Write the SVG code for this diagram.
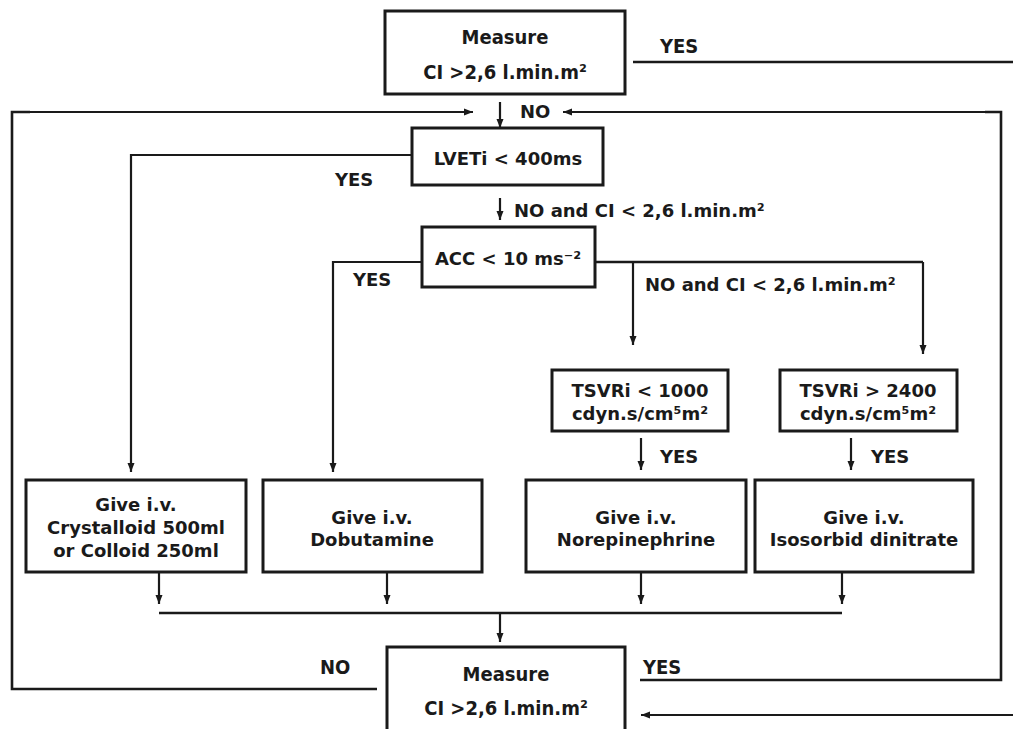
<svg xmlns="http://www.w3.org/2000/svg" width="1013" height="729" viewBox="0 0 1013 729">
<defs>
<marker id="ah" markerUnits="userSpaceOnUse" markerWidth="10" markerHeight="8" refX="9" refY="4" orient="auto">
<path d="M0,0.5 L9,4 L0,7.5 z" fill="#1a1a1a"/>
</marker>
<style>
.box{fill:#fff;stroke:#1a1a1a;stroke-width:3}
.ln{fill:none;stroke:#1a1a1a;stroke-width:2.6}
.ar{fill:none;stroke:#1a1a1a;stroke-width:2.2;marker-end:url(#ah)}
text{font-family:"DejaVu Sans",Verdana,sans-serif;font-weight:bold;font-size:18px;fill:#1a1a1a}
.c{text-anchor:middle}
.n{font-family:"DejaVu Sans Condensed","DejaVu Sans",sans-serif;font-stretch:condensed;font-size:20px}
</style>
</defs>
<rect width="1013" height="729" fill="#fff"/>
<g id="connectors">
<line class="ln" x1="633" y1="62" x2="1013" y2="62"/>
<polyline class="ln" points="377,689 12,689 12,112 30,112"/>
<line class="ar" x1="14" y1="112" x2="473" y2="112"/>
<polyline class="ln" points="640,680 1001,680 1001,112 985,112"/>
<line class="ar" x1="1001" y1="112" x2="563" y2="112"/>
<line class="ar" x1="1013" y1="715" x2="641" y2="715"/>
<line class="ar" x1="500" y1="102" x2="500" y2="128"/>
<polyline class="ar" points="412,155 131,155 131,472"/>
<line class="ar" x1="500" y1="198" x2="500" y2="220"/>
<polyline class="ar" points="422,262 333,262 333,472"/>
<line class="ln" x1="595" y1="262" x2="923" y2="262"/>
<line class="ar" x1="633" y1="262" x2="633" y2="345"/>
<line class="ar" x1="923" y1="262" x2="923" y2="354"/>
<line class="ar" x1="641" y1="438" x2="641" y2="470"/>
<line class="ar" x1="851" y1="438" x2="851" y2="470"/>
<line class="ar" x1="159" y1="573" x2="159" y2="604"/>
<line class="ar" x1="387" y1="573" x2="387" y2="604"/>
<line class="ar" x1="641" y1="573" x2="641" y2="604"/>
<line class="ar" x1="842" y1="573" x2="842" y2="604"/>
<line class="ln" x1="159" y1="613" x2="842" y2="613"/>
<line class="ar" x1="500" y1="613" x2="500" y2="642"/>
</g>
<g id="labels">
<text class="n" x="660" y="53">YES</text>
<text x="520" y="118">NO</text>
<text x="335" y="186">YES</text>
<text x="514" y="217">NO and  CI &lt; 2,6 l.min.m²</text>
<text x="353" y="286">YES</text>
<text x="645" y="291">NO and  CI &lt; 2,6 l.min.m²</text>
<text x="660" y="463">YES</text>
<text x="871" y="463">YES</text>
<text class="n" x="320" y="674">NO</text>
<text class="n" x="643" y="674">YES</text>
</g>
<g id="measure-top">
<rect class="box" x="385" y="11" width="240" height="83"/>
<text class="c n" x="505" y="44">Measure</text>
<text class="c n" x="505" y="79">CI &gt;2,6 l.min.m²</text>
</g>
<g id="lveti">
<rect class="box" x="412" y="128" width="191" height="57"/>
<text class="c" x="508" y="165">LVETi &lt; 400ms</text>
</g>
<g id="acc">
<rect class="box" x="422" y="227" width="173" height="60"/>
<text class="c" x="508" y="265">ACC &lt; 10 ms⁻²</text>
</g>
<g id="tsvri-low">
<rect class="box" x="552" y="370" width="176" height="61"/>
<text class="c" x="640" y="397">TSVRi &lt; 1000</text>
<text class="c" x="640" y="420">cdyn.s/cm⁵m²</text>
</g>
<g id="tsvri-high">
<rect class="box" x="780" y="370" width="177" height="61"/>
<text class="c" x="868" y="397">TSVRi &gt; 2400</text>
<text class="c" x="868" y="420">cdyn.s/cm⁵m²</text>
</g>
<g id="crystalloid">
<rect class="box" x="26" y="480" width="220" height="92"/>
<text class="c" x="136" y="511">Give i.v.</text>
<text class="c" x="136" y="534">Crystalloid 500ml</text>
<text class="c" x="136" y="557">or Colloid 250ml</text>
</g>
<g id="dobutamine">
<rect class="box" x="263" y="480" width="219" height="92"/>
<text class="c" x="372" y="524">Give i.v.</text>
<text class="c" x="372" y="546">Dobutamine</text>
</g>
<g id="norepinephrine">
<rect class="box" x="526" y="480" width="220" height="92"/>
<text class="c" x="636" y="524">Give i.v.</text>
<text class="c" x="636" y="546">Norepinephrine</text>
</g>
<g id="isosorbid">
<rect class="box" x="755" y="480" width="218" height="92"/>
<text class="c" x="864" y="524">Give i.v.</text>
<text class="c" x="864" y="546">Isosorbid dinitrate</text>
</g>
<g id="measure-bottom">
<rect class="box" x="387" y="647" width="238" height="95"/>
<text class="c n" x="506" y="681">Measure</text>
<text class="c n" x="506" y="715">CI &gt;2,6 l.min.m²</text>
</g>
</svg>
